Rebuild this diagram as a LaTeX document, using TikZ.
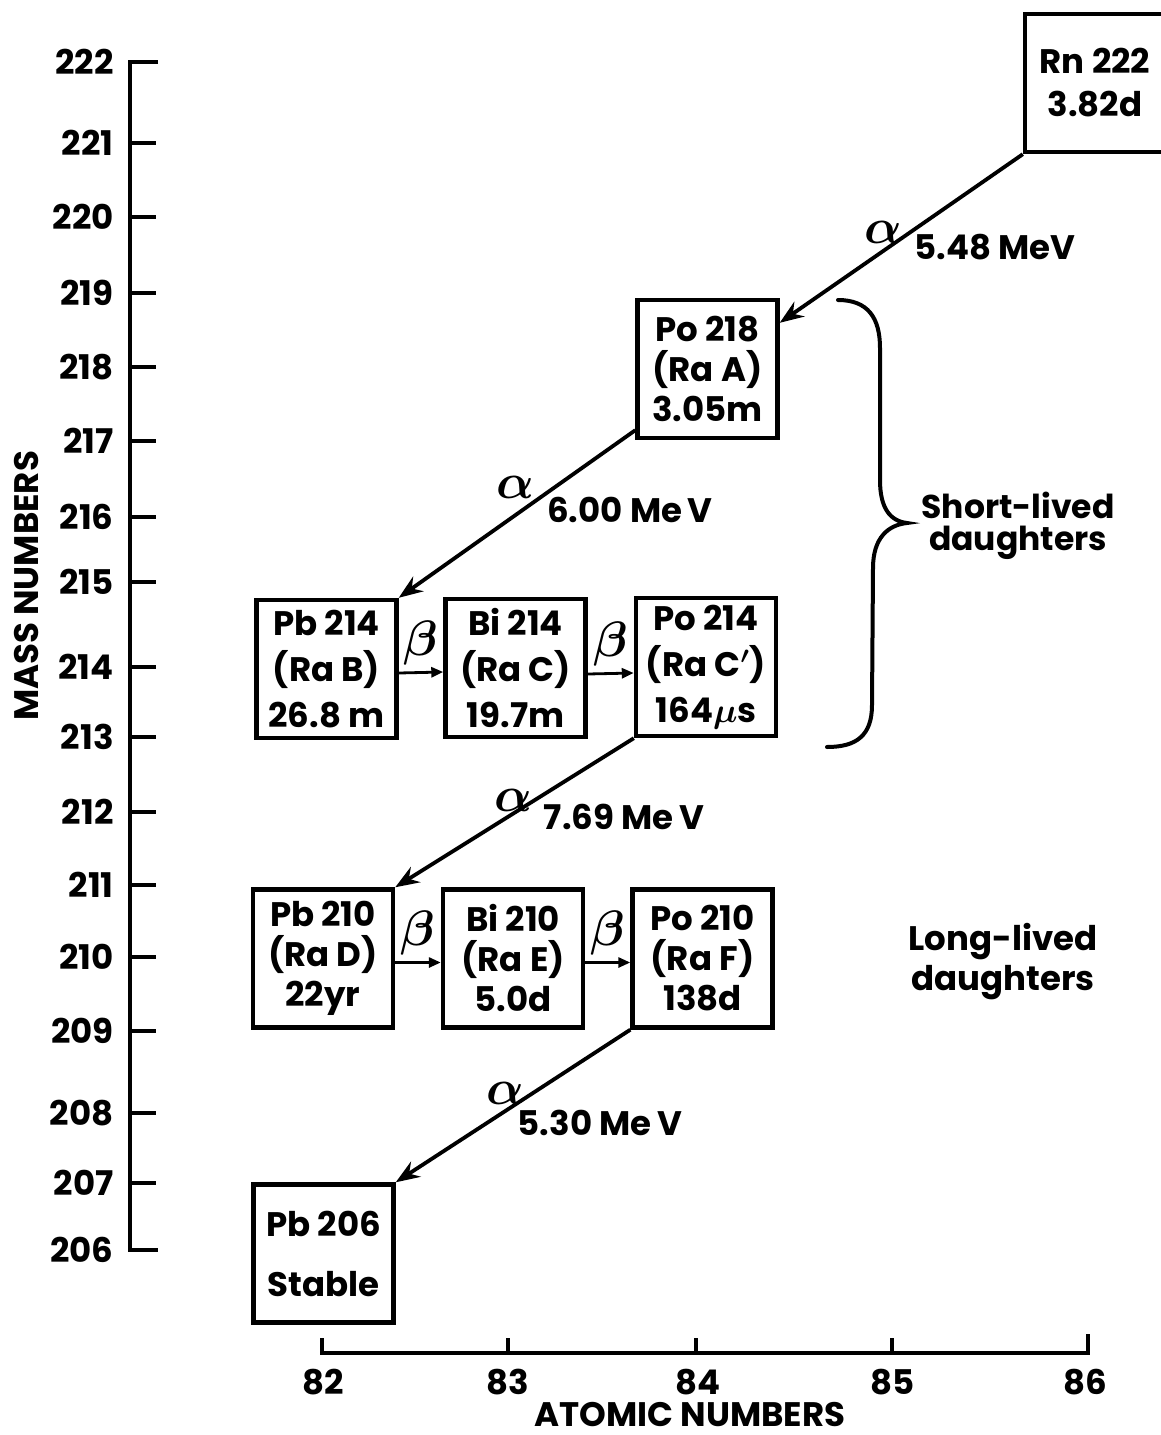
\documentclass[tikz,border=0pt]{standalone}
\usepackage{fontspec}
\setmainfont{Poppins}
\usepackage{amsmath, amssymb}
\usepackage{tikz}
\usetikzlibrary{arrows.meta, calc}

\begin{document}
\begin{tikzpicture}[x=0.5pt, y=-0.5pt,
  lbl/.style={inner sep=0pt, font=\fontsize{17}{20}\selectfont\bfseries\boldmath},
  greek/.style={inner sep=0pt, font=\fontsize{23}{24}\selectfont\boldmath},
  nuclide/.style={lbl, draw, line width=2.2pt, minimum width=70pt, minimum height=69pt, align=center},
  alphadecay/.style={-{Stealth[length=12pt, width=9pt, inset=4pt]}, line width=1.9pt},
  betadecay/.style={-{Triangle[length=6pt, width=5pt]}, line width=1.4pt}]
\useasboundingbox (0,0) rectangle (1161,1435);
\fill[white] (0,0) rectangle (1161,1435);

% mass number axis
\draw[line width=2pt] (158,62) -- (130,62) -- (130,1250) -- (158,1250);
\foreach \m/\y in {221/143, 220/217, 219/293, 218/367, 217/441, 216/517, 215/582,
                   214/667, 213/737, 212/812, 211/885, 210/957, 209/1031, 208/1113, 207/1183}
  \draw[line width=1.8pt] (130,\y) -- (156,\y);
\foreach \m/\y in {222/62, 221/143, 220/217, 219/293, 218/367, 217/441, 216/517, 215/582,
                   214/667, 213/737, 212/812, 211/885, 210/957, 209/1031, 208/1113, 207/1183, 206/1250}
  \node[lbl, anchor=east] (m\m) at (114,\y) {\m};
\node[lbl, rotate=90] (massaxis) at (27,586) {MASS NUMBERS};

% atomic number axis
\draw[line width=2pt] (322,1338) -- (322,1353) -- (1088,1353) -- (1088,1334);
\foreach \x in {508, 696, 892}
  \draw[line width=1.8pt] (\x,1353) -- (\x,1338);
\foreach \z/\x in {82/323, 83/508, 84/698, 85/893, 86/1085}
  \node[lbl] (z\z) at (\x,1382) {\z};
\node[lbl] (atomaxis) at (690,1414) {ATOMIC NUMBERS};

% nuclides
\node[nuclide, font=\fontsize{17}{21.5}\selectfont\bfseries] (rn222) at (1095,83) {Rn 222\\3.82d};
\node[nuclide] (po218) at (707.5,369) {Po 218\\(Ra A)\\3.05m};
\node[nuclide, font=\fontsize{17}{23}\selectfont\bfseries\boldmath] (pb214) at (326.5,669) {Pb 214\\(Ra B)\\26.8 m};
\node[nuclide, font=\fontsize{17}{23}\selectfont\bfseries\boldmath] (bi214) at (515.5,668) {Bi 214\\(Ra C)\\19.7m};
\node[nuclide, font=\fontsize{17}{23}\selectfont\bfseries\boldmath] (po214) at (706,667) {Po 214\\(Ra C$'$)\\164$\mu$s};
\node[nuclide] (pb210) at (323,958.5) {Pb 210\\(Ra D)\\22yr};
\node[nuclide] (bi210) at (513,958.5) {Bi 210\\(Ra E)\\5.0d};
\node[nuclide] (po210) at (702.5,958.5) {Po 210\\(Ra F)\\138d};
\node[nuclide] (pb206) at (323.5,1253.5) {Pb 206\\[10pt]Stable};

% alpha decays
\draw[alphadecay] (rn222.south west) -- ($(po218.north east)+(0,25)$);
\draw[alphadecay] ($(po218.south west)+(0,-10)$) -- (pb214.north east);
\draw[alphadecay] (po214.south west) -- (pb210.north east);
\draw[alphadecay] (po210.south west) -- (pb206.north east);

\node[greek] (a1) at (883,232) {$\alpha$};
\node[lbl] (e1) at (995,247) {5.48 MeV};
\node[greek] (a2) at (515,487) {$\alpha$};
\node[lbl] (e2) at (630,510) {6.00 Me\,V};
\node[greek] (a3) at (513,800) {$\alpha$};
\node[lbl] (e3) at (624,817) {7.69 Me\,V};
\node[greek] (a4) at (505,1093) {$\alpha$};
\node[lbl] (e4) at (600,1123) {5.30 Me\,V};

% beta decays
\draw[betadecay] ([yshift=-2pt]pb214.east) -- node[greek, above=3pt] (b1) {$\beta$} ([yshift=-2pt]bi214.west);
\draw[betadecay] ([yshift=-3pt]bi214.east) -- node[greek, above=3pt] (b2) {$\beta$} ([yshift=-3pt]po214.west);
\draw[betadecay] ([yshift=-2pt]pb210.east) -- node[greek, above=3pt] (b3) {$\beta$} ([yshift=-2pt]bi210.west);
\draw[betadecay] ([yshift=-2pt]bi210.east) -- node[greek, above=3pt] (b4) {$\beta$} ([yshift=-2pt]po210.west);

% groups
\draw[line width=2pt, line cap=round] (838,300) .. controls (868,300) and (880,318) .. (880,348)
  -- (880,480) .. controls (880,508) and (890,521) .. (907,523)
  .. controls (888,525) and (873,538) .. (873,568)
  -- (872,705) .. controls (872,735) and (857,747) .. (827,747);
\node[lbl, align=center, font=\fontsize{16.5}{16}\selectfont\bfseries] (short) at (1018,526) {Short-lived\\daughters};
\node[lbl, align=center, font=\fontsize{17}{20}\selectfont\bfseries] (long) at (1003,962) {Long-lived\\daughters};
\end{tikzpicture}
\end{document}
